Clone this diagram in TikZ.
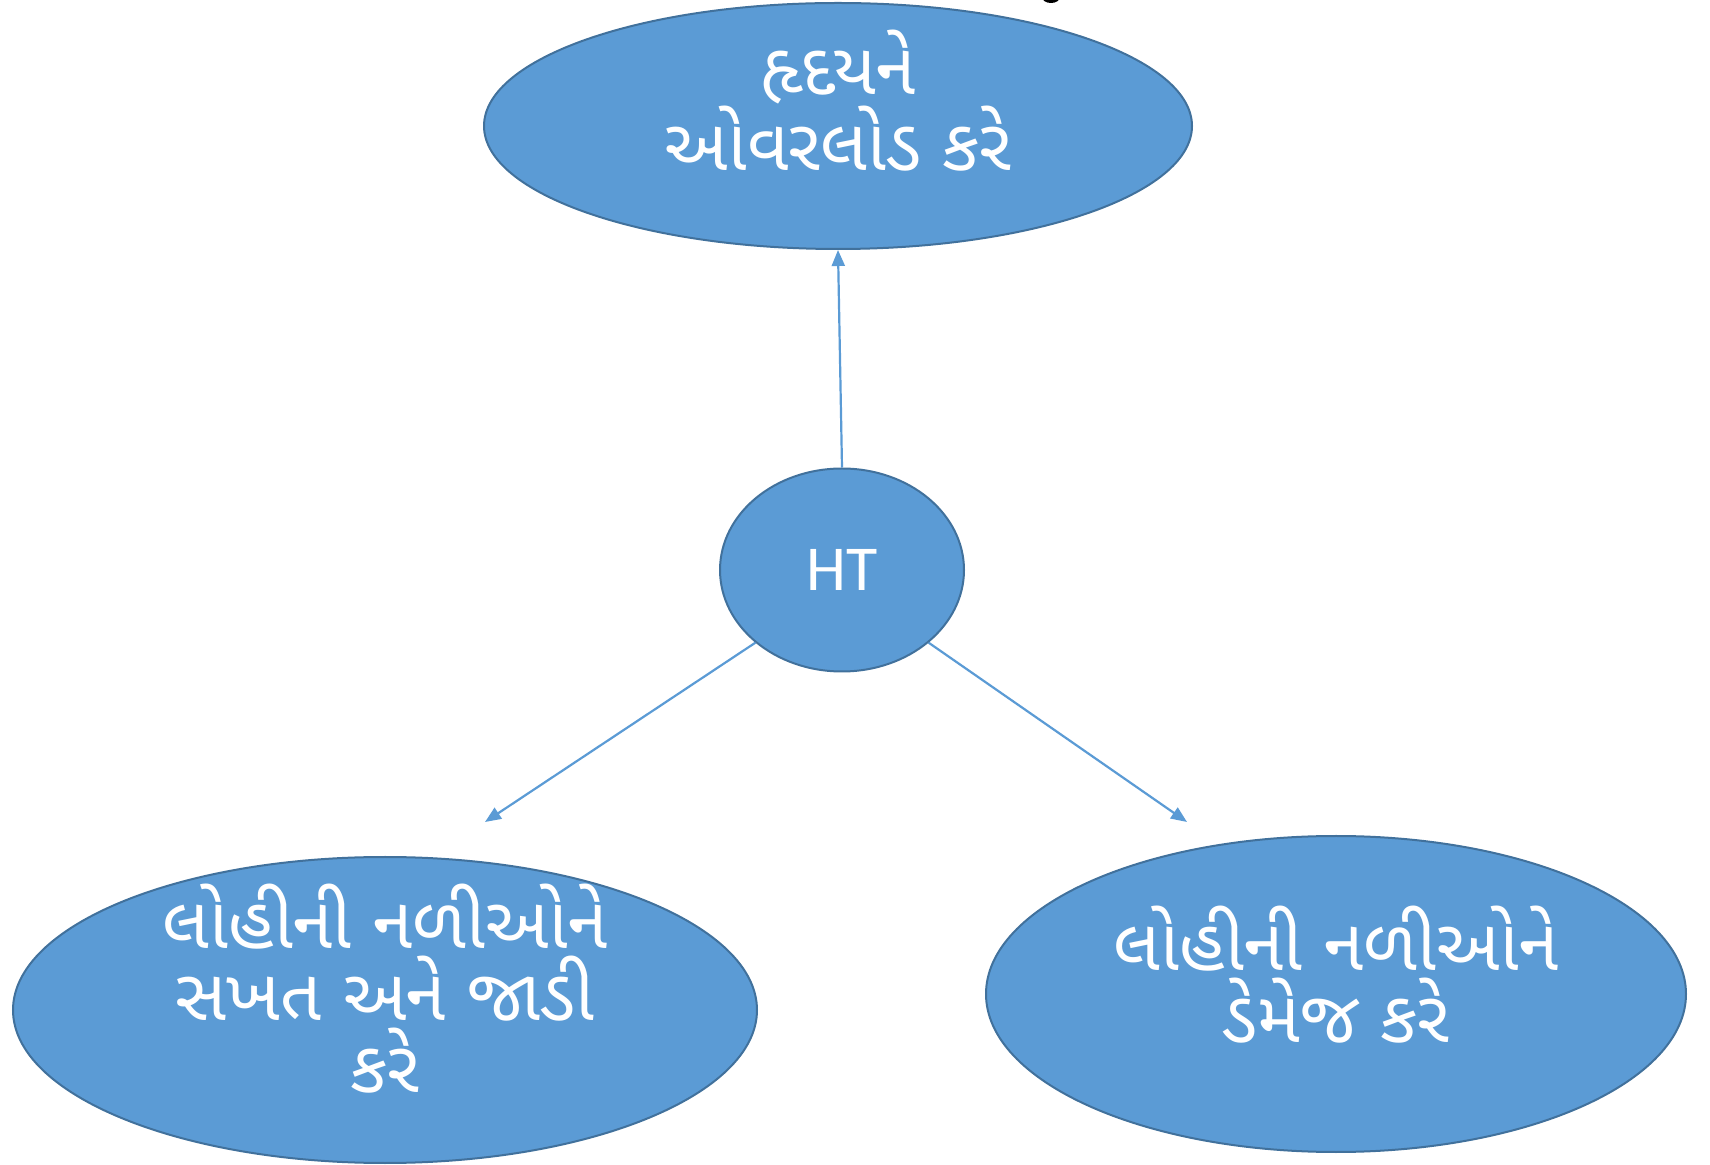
\documentclass[tikz,border=0pt]{standalone}
\usepackage{fontspec}
\setmainfont{Carlito}
\newfontfamily\guj[Script=Gujarati]{Noto Sans Gujarati UI}
\usetikzlibrary{shapes.geometric,arrows.meta}
\definecolor{bubblefill}{HTML}{5B9BD5}
\definecolor{bubbleedge}{HTML}{41719C}
\begin{document}
\begin{tikzpicture}[x=0.5pt,y=-0.5pt,
  bubble/.style={ellipse,draw=bubbleedge,fill=bubblefill,line width=1pt,inner sep=0pt},
  caption/.style={text=white,align=center,inner sep=0pt,font=\guj\fontsize{36}{36}\selectfont},
  link/.style={draw=bubblefill,line width=1.1pt,-{Triangle[length=8pt,width=6.5pt]}}]
\useasboundingbox (0,0) rectangle (1710,1165);

% cut-off glyph at the top edge
\fill[black] (1051,-3) ellipse [x radius=4.5pt, y radius=3pt];

% bubbles
\node[bubble,minimum width=354pt,minimum height=123pt] (heart) at (838,126) {};
\node[bubble,minimum width=122pt,minimum height=101.5pt,text=white,
      font=\fontsize{32}{38}\selectfont] (ht) at (842,570) {HT};
\node[bubble,minimum width=372pt,minimum height=153pt] (stiff) at (385,1010) {};
\node[bubble,minimum width=350pt,minimum height=158pt] (damage) at (1336,994) {};

% captions
\node[caption] (heartText) at (838,101) {હૃદયને\\ઓવરલોડ કરે};
\node[caption] (stiffText) at (385,989) {લોહીની નળીઓને\\સખત અને જાડી\\કરે};
\node[caption] (damageText) at (1336,975) {લોહીની નળીઓને\\ડેમેજ કરે};

% arrows
\coordinate (lefttip) at (485,822);
\coordinate (righttip) at (1187,822);
\draw[link] (ht.north) -- (heart.south);
\draw[link] (ht.220) -- (lefttip);
\draw[link] (ht.-40) -- (righttip);
\end{tikzpicture}
\end{document}
